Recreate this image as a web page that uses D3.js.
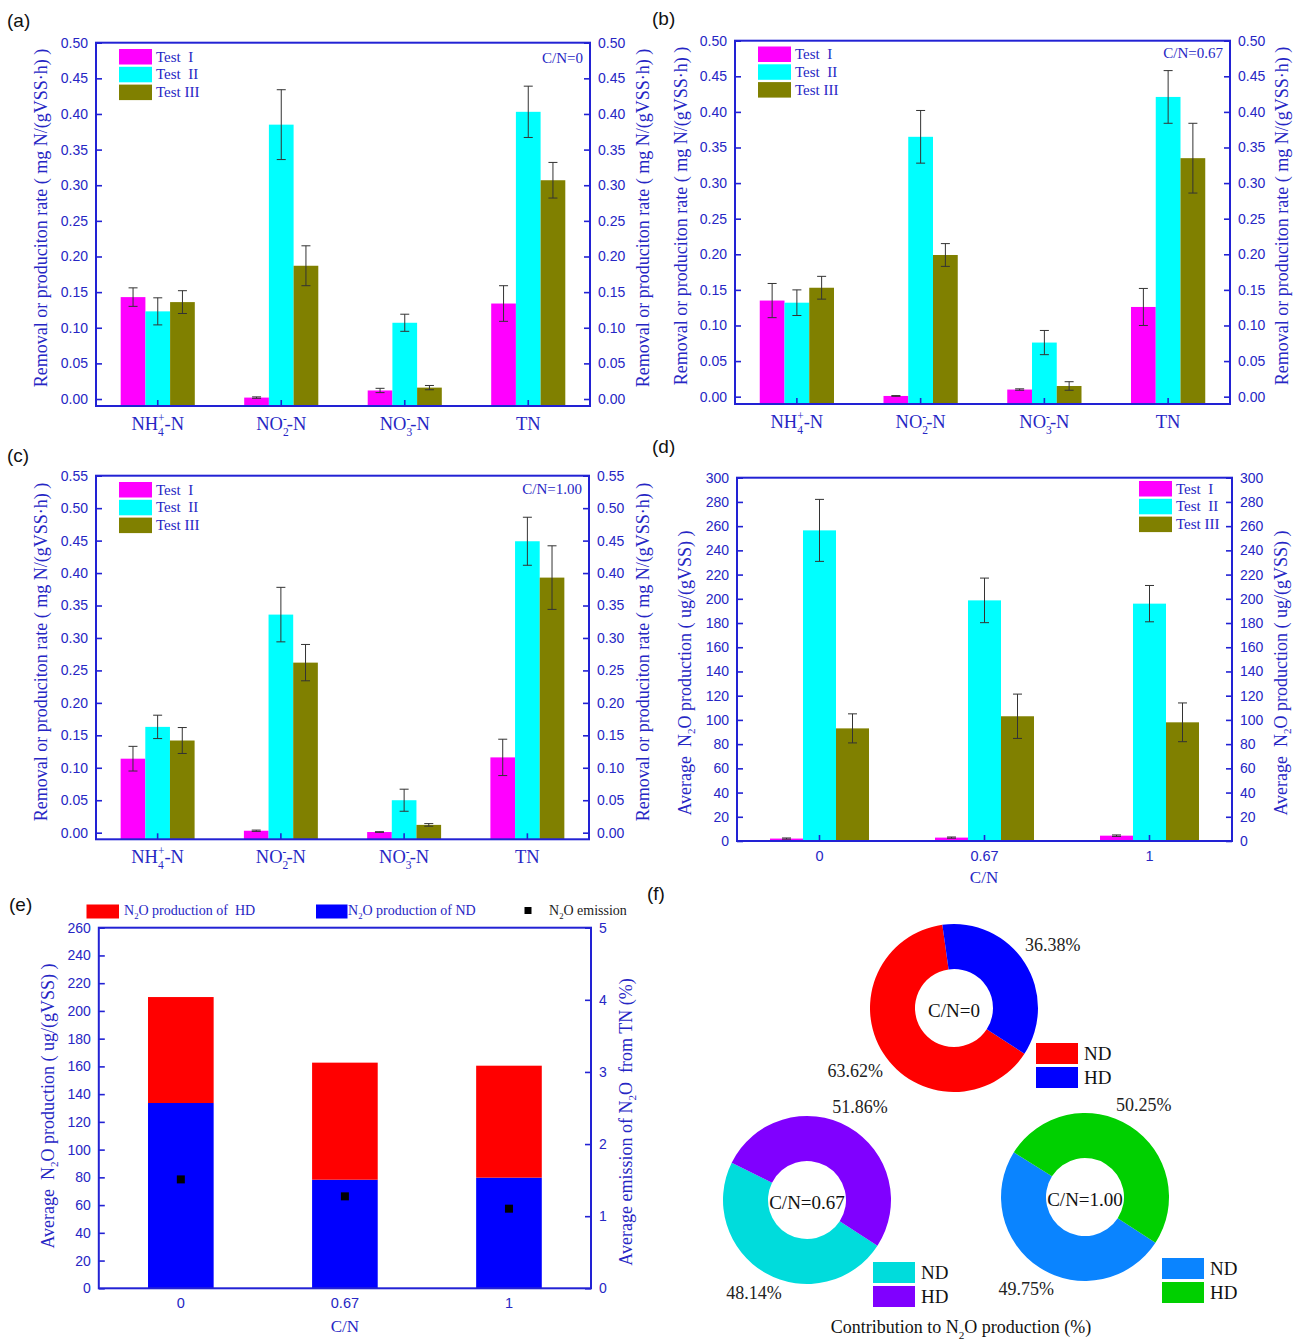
<!DOCTYPE html>
<html>
<head>
<meta charset="utf-8">
<script src="https://cdn.jsdelivr.net/npm/d3@7"></script>
<style>
  body { margin: 0; background: #fff; }
  svg text { white-space: pre; }
</style>
</head>
<body>
<script>
// ---------------- data ----------------
const testNames = ["Test  I", "Test  II", "Test III"];
const testColors = ["#ff00ff", "#00ffff", "#808000"];
const nitrogenForms = ["NH4+-N", "NO2--N", "NO3--N", "TN"];
const cnLevels = ["0", "0.67", "1"];

// removal or production rate, mg N/(gVSS·h): rows = Test I, II, III; columns = nitrogenForms
const rateCN0 = [[0.143, 0.002, 0.012, 0.134], [0.123, 0.385, 0.107, 0.403], [0.136, 0.187, 0.016, 0.307]];
const errCN0 = [[0.013, 0.001, 0.003, 0.025], [0.019, 0.049, 0.012, 0.036], [0.016, 0.028, 0.003, 0.025]];
const rateCN067 = [[0.135, 0.001, 0.010, 0.126], [0.132, 0.365, 0.076, 0.421], [0.153, 0.199, 0.015, 0.335]];
const errCN067 = [[0.024, 0.0005, 0.001, 0.026], [0.018, 0.037, 0.017, 0.037], [0.016, 0.016, 0.006, 0.049]];
const rateCN100 = [[0.114, 0.003, 0.001, 0.116], [0.163, 0.336, 0.050, 0.449], [0.142, 0.262, 0.012, 0.393]];
const errCN100 = [[0.019, 0.001, 0.0005, 0.028], [0.018, 0.042, 0.017, 0.037], [0.020, 0.028, 0.002, 0.049]];

// average N2O production, ug/(gVSS): rows = Test I, II, III; columns = cnLevels
const n2oByTest = [[2.0, 2.8, 4.4], [256.5, 198.7, 196.0], [93.0, 103.0, 98.0]];
const n2oByTestErr = [[0.5, 0.5, 0.6], [25.6, 18.4, 15.0], [12.0, 18.3, 16.0]];

// N2O production split by pathway, ug/(gVSS), and emission share of TN (%)
const n2oND = [133.6, 78.3, 79.8];
const n2oHD = [76.4, 84.4, 80.7];
const n2oEmission = [1.51, 1.275, 1.104];

// contribution to N2O production (%)
const donutNames = ["C/N=0", "C/N=0.67", "C/N=1.00"];
const shareND = [63.62, 48.14, 49.75];
const shareHD = [36.38, 51.86, 50.25];

// tick values
const rateTicks050 = [0, 0.05, 0.10, 0.15, 0.20, 0.25, 0.30, 0.35, 0.40, 0.45, 0.50];
const rateTicks055 = [0, 0.05, 0.10, 0.15, 0.20, 0.25, 0.30, 0.35, 0.40, 0.45, 0.50, 0.55];
const n2oTicks300 = [0, 20, 40, 60, 80, 100, 120, 140, 160, 180, 200, 220, 240, 260, 280, 300];
const n2oTicks260 = [0, 20, 40, 60, 80, 100, 120, 140, 160, 180, 200, 220, 240, 260];
const emissionTicks = [0, 1, 2, 3, 4, 5];

// ---------------- styling ----------------
const AXIS = "#2222d4";
const TXT = "#2626c4";
const SERIF = "'Liberation Serif', 'Times New Roman', serif";
const SANS = "'Liberation Sans', Arial, sans-serif";

const svg = d3.select("body").append("svg")
  .attr("width", 1296).attr("height", 1341)
  .style("background", "#fff");

// text pieces: [string, kind] with kind "sub", "sup" or "over" (superscript stacked above the previous subscript)
function rich(text, parts, fs) {
  let cur = 0;
  parts.forEach(([s, kind]) => {
    const ts = text.append("tspan").text(s);
    let target = 0, size = fs;
    if (kind === "sub") { target = 0.32 * fs; size = 0.62 * fs; }
    else if (kind === "sup" || kind === "over") { target = -0.45 * fs; size = 0.62 * fs; }
    ts.attr("dy", target - cur).attr("font-size", size);
    if (kind === "over") ts.attr("dx", -0.31 * fs);
    cur = target;
  });
  return text;
}

const formParts = {
  "NH4+-N": [["NH"], ["4", "sub"], ["+", "over"], ["-N"]],
  "NO2--N": [["NO"], ["2", "sub"], ["-", "over"], ["-N"]],
  "NO3--N": [["NO"], ["3", "sub"], ["-", "over"], ["-N"]],
  "TN": [["TN"]]
};
const rateTitle = [["Removal or produciton rate ( mg N/(gVSS·h) )"]];
const n2oTitle = [["Average  N"], ["2", "sub"], ["O production ( ug/(gVSS) )"]];
const emissionTitle = [["Average emission of N"], ["2", "sub"], ["O  from TN (%)"]];

function panelLabel(x, y, s) {
  svg.append("text").attr("x", x).attr("y", y).text(s)
    .attr("font-family", SANS).attr("font-size", 19).attr("fill", "#111");
}

function vTitle(x, cy, parts, fs) {
  const t = svg.append("text")
    .attr("transform", `translate(${x},${cy}) rotate(-90)`)
    .attr("text-anchor", "middle").attr("dominant-baseline", "central")
    .attr("font-family", SERIF).attr("font-size", fs).attr("fill", TXT);
  rich(t, parts, fs);
}

function styleAxis(g) {
  g.select(".domain").remove();
  g.selectAll(".tick line").attr("stroke", AXIS).attr("stroke-width", 1.6);
  g.selectAll(".tick text").attr("fill", TXT).attr("font-family", SANS).attr("font-size", 14);
}

// grouped bar panel with error bars, two mirrored y axes and a legend
function barPanel(o) {
  const g = svg.append("g");
  const y = d3.scaleLinear().domain(o.yDomain).range([o.bottom, o.top]);
  const x = d3.scaleBand().domain(o.cats).range([o.left, o.right]);
  const bw = x.bandwidth();
  const xs = d3.scaleBand().domain([0, 1, 2]).range([bw * 0.2, bw * 0.8]);
  const base = y(o.yDomain[0]);

  o.values.forEach((vals, t) => {
    g.append("g").selectAll("rect").data(vals).join("rect")
      .attr("x", (d, i) => x(o.cats[i]) + xs(t))
      .attr("width", xs.bandwidth())
      .attr("y", d => y(d))
      .attr("height", d => base - y(d))
      .attr("fill", testColors[t]);
  });
  o.values.forEach((vals, t) => {
    const eg = g.append("g").attr("stroke", "#333").attr("stroke-width", 1);
    vals.forEach((v, i) => {
      const cx = x(o.cats[i]) + xs(t) + xs.bandwidth() / 2;
      const e = o.errs[t][i];
      const y1 = y(v + e), y2 = y(v - e);
      eg.append("line").attr("x1", cx).attr("x2", cx).attr("y1", y1).attr("y2", y2);
      eg.append("line").attr("x1", cx - 4.5).attr("x2", cx + 4.5).attr("y1", y1).attr("y2", y1);
      eg.append("line").attr("x1", cx - 4.5).attr("x2", cx + 4.5).attr("y1", y2).attr("y2", y2);
    });
  });

  // axes (ticks point inward)
  g.append("g").attr("transform", `translate(${o.left},0)`)
    .call(d3.axisLeft(y).tickValues(o.ticks).tickSize(-6).tickPadding(8).tickFormat(o.fmt))
    .call(styleAxis);
  g.append("g").attr("transform", `translate(${o.right},0)`)
    .call(d3.axisRight(y).tickValues(o.ticks).tickSize(-6).tickPadding(8).tickFormat(o.fmt))
    .call(styleAxis);
  const xa = g.append("g").attr("transform", `translate(0,${o.bottom})`)
    .call(d3.axisBottom(x).tickSize(-6).tickPadding(10).tickFormat(o.catText ? "" : null))
    .call(styleAxis);
  xa.selectAll(".tick text").attr("font-size", 14.5);

  if (o.catText) {
    o.cats.forEach(c => {
      const t = g.append("text").attr("x", x(c) + bw / 2).attr("y", o.catY)
        .attr("text-anchor", "middle").attr("font-family", SERIF)
        .attr("font-size", 18.5).attr("fill", TXT);
      rich(t, formParts[c], 18.5);
    });
  }

  g.append("rect").attr("x", o.left).attr("y", o.top)
    .attr("width", o.right - o.left).attr("height", o.bottom - o.top)
    .attr("fill", "none").attr("stroke", AXIS).attr("stroke-width", 2);

  // legend
  testNames.forEach((n, i) => {
    g.append("rect").attr("x", o.legX).attr("y", o.legY + i * 17.8)
      .attr("width", 33).attr("height", 15.5).attr("fill", testColors[i]);
    g.append("text").attr("x", o.legX + 37).attr("y", o.legY + i * 17.8 + 12.5)
      .attr("font-family", SERIF).attr("font-size", 15).attr("fill", TXT).text(n);
  });

  if (o.cnText) {
    g.append("text").attr("x", o.right - 7).attr("y", o.cnY)
      .attr("text-anchor", "end").attr("font-family", SERIF).attr("font-size", 15)
      .attr("fill", TXT).text(o.cnText);
  }

  vTitle(o.titleL, o.titleCY, o.title, 18);
  vTitle(o.titleR, o.titleCY, o.title, 18);
}

// (a) C/N = 0
panelLabel(7, 27, "(a)");
barPanel({
  left: 96, right: 590, top: 42.7, bottom: 406, yDomain: [-0.0098, 0.5],
  cats: nitrogenForms, catText: true, catY: 430,
  values: rateCN0, errs: errCN0, ticks: rateTicks050, fmt: d3.format(".2f"),
  legX: 119, legY: 49, cnText: "C/N=0", cnY: 63,
  title: rateTitle, titleL: 41, titleR: 643, titleCY: 218
});

// (b) C/N = 0.67
panelLabel(652, 25, "(b)");
barPanel({
  left: 735, right: 1230, top: 40.7, bottom: 404, yDomain: [-0.0103, 0.5],
  cats: nitrogenForms, catText: true, catY: 428,
  values: rateCN067, errs: errCN067, ticks: rateTicks050, fmt: d3.format(".2f"),
  legX: 758, legY: 46.5, cnText: "C/N=0.67", cnY: 58,
  title: rateTitle, titleL: 681, titleR: 1282, titleCY: 216
});

// (c) C/N = 1.00
panelLabel(7, 462, "(c)");
barPanel({
  left: 96, right: 589, top: 475.7, bottom: 839.3, yDomain: [-0.0102, 0.55],
  cats: nitrogenForms, catText: true, catY: 863,
  values: rateCN100, errs: errCN100, ticks: rateTicks055, fmt: d3.format(".2f"),
  legX: 119, legY: 482, cnText: "C/N=1.00", cnY: 494,
  title: rateTitle, titleL: 41, titleR: 643, titleCY: 652
});

// (d) N2O production per test
panelLabel(652, 453, "(d)");
barPanel({
  left: 737, right: 1232, top: 477.7, bottom: 841, yDomain: [0, 300],
  cats: cnLevels, catText: false,
  values: n2oByTest, errs: n2oByTestErr, ticks: n2oTicks300, fmt: d3.format("d"),
  legX: 1139, legY: 481,
  title: n2oTitle, titleL: 685, titleR: 1281, titleCY: 673
});
svg.append("text").attr("x", 984).attr("y", 883).attr("text-anchor", "middle")
  .attr("font-family", SERIF).attr("font-size", 17).attr("fill", TXT).text("C/N");

// (e) stacked N2O production by pathway with emission markers
panelLabel(9, 911, "(e)");
(function () {
  const left = 98.8, right = 591, top = 927.7, bottom = 1288.3;
  const g = svg.append("g");
  const y = d3.scaleLinear().domain([0, 260]).range([bottom, top]);
  const yR = d3.scaleLinear().domain([0, 5]).range([bottom, top]);
  const x = d3.scaleBand().domain(cnLevels).range([left, right]);
  const bw = x.bandwidth() * 0.4;
  const stacked = d3.stack().keys(["nd", "hd"])(cnLevels.map((c, i) => ({ c, nd: n2oND[i], hd: n2oHD[i] })));
  const fills = ["#0000ff", "#ff0000"];
  stacked.forEach((layer, k) => {
    g.append("g").selectAll("rect").data(layer).join("rect")
      .attr("x", d => x(d.data.c) + (x.bandwidth() - bw) / 2)
      .attr("width", bw)
      .attr("y", d => y(d[1]))
      .attr("height", d => y(d[0]) - y(d[1]))
      .attr("fill", fills[k]);
  });
  g.append("g").selectAll("rect").data(n2oEmission).join("rect")
    .attr("x", (d, i) => x(cnLevels[i]) + x.bandwidth() / 2 - 4)
    .attr("y", d => yR(d) - 4)
    .attr("width", 8).attr("height", 8).attr("fill", "#000");

  g.append("g").attr("transform", `translate(${left},0)`)
    .call(d3.axisLeft(y).tickValues(n2oTicks260).tickSize(-6).tickPadding(8).tickFormat(d3.format("d")))
    .call(styleAxis);
  g.append("g").attr("transform", `translate(${right},0)`)
    .call(d3.axisRight(yR).tickValues(emissionTicks).tickSize(-6).tickPadding(8).tickFormat(d3.format("d")))
    .call(styleAxis);
  g.append("g").attr("transform", `translate(0,${bottom})`)
    .call(d3.axisBottom(x).tickSize(0).tickPadding(9))
    .call(styleAxis)
    .selectAll(".tick text").attr("font-size", 14.5);
  g.append("rect").attr("x", left).attr("y", top)
    .attr("width", right - left).attr("height", bottom - top)
    .attr("fill", "none").attr("stroke", AXIS).attr("stroke-width", 2);

  g.append("text").attr("x", (left + right) / 2).attr("y", 1332).attr("text-anchor", "middle")
    .attr("font-family", SERIF).attr("font-size", 17).attr("fill", TXT).text("C/N");

  // legend row
  const leg = [
    { x: 86.5, w: 32.5, fill: "#ff0000", tx: 124, parts: [["N"], ["2", "sub"], ["O production of  HD"]] },
    { x: 316, w: 31.5, fill: "#0000ff", tx: 348, parts: [["N"], ["2", "sub"], ["O production of ND"]] }
  ];
  leg.forEach(l => {
    g.append("rect").attr("x", l.x).attr("y", 904.5).attr("width", l.w).attr("height", 14).attr("fill", l.fill);
    const t = g.append("text").attr("x", l.tx).attr("y", 915)
      .attr("font-family", SERIF).attr("font-size", 14).attr("fill", TXT);
    rich(t, l.parts, 14);
  });
  g.append("rect").attr("x", 524.5).attr("y", 907).attr("width", 7).attr("height", 7).attr("fill", "#000");
  const te = g.append("text").attr("x", 549).attr("y", 915)
    .attr("font-family", SERIF).attr("font-size", 14).attr("fill", "#222");
  rich(te, [["N"], ["2", "sub"], ["O emission"]], 14);

  vTitle(48, 1106, n2oTitle, 18);
  vTitle(626, 1122, emissionTitle, 18);
})();

// (f) donuts: share of N2O production by pathway
panelLabel(647, 900, "(f)");
(function () {
  const centers = [[954, 1008], [807, 1200], [1085, 1197]];
  const colors = [["#ff0000", "#0000ff"], ["#00dcdc", "#8000ff"], ["#0a84ff", "#00d000"]];
  const labelR = [117, 107, 109];
  const legendAt = [[1036, 1043], [873, 1262], [1162, 1258]];
  const start = 123 * Math.PI / 180;
  const pie = d3.pie().sort(null).startAngle(start).endAngle(start + 2 * Math.PI);
  const arc = d3.arc().innerRadius(39).outerRadius(84);

  donutNames.forEach((name, i) => {
    const [cx, cy] = centers[i];
    const g = svg.append("g").attr("transform", `translate(${cx},${cy})`);
    const slices = pie([shareND[i], shareHD[i]]);
    g.selectAll("path").data(slices).join("path")
      .attr("d", arc).attr("fill", (d, k) => colors[i][k]);
    const lab = d3.arc().innerRadius(labelR[i]).outerRadius(labelR[i]);
    g.selectAll("text.pct").data(slices).join("text").attr("class", "pct")
      .attr("transform", d => `translate(${lab.centroid(d)})`)
      .attr("text-anchor", "middle").attr("dominant-baseline", "central")
      .attr("font-family", SERIF).attr("font-size", 18).attr("fill", "#222")
      .text(d => d3.format(".2f")(d.data) + "%");
    g.append("text").attr("x", 0).attr("y", 2)
      .attr("text-anchor", "middle").attr("dominant-baseline", "central")
      .attr("font-family", SERIF).attr("font-size", 19).attr("fill", "#111").text(name);

    const [lx, ly] = legendAt[i];
    ["ND", "HD"].forEach((n, k) => {
      svg.append("rect").attr("x", lx).attr("y", ly + k * 24)
        .attr("width", 42).attr("height", 21).attr("fill", colors[i][k]);
      svg.append("text").attr("x", lx + 48).attr("y", ly + k * 24 + 17)
        .attr("font-family", SERIF).attr("font-size", 19).attr("fill", "#111").text(n);
    });
  });

  const t = svg.append("text").attr("x", 961).attr("y", 1333).attr("text-anchor", "middle")
    .attr("font-family", SERIF).attr("font-size", 18).attr("fill", "#111");
  rich(t, [["Contribution to N"], ["2", "sub"], ["O production (%)"]], 18);
})();
</script>
</body>
</html>
